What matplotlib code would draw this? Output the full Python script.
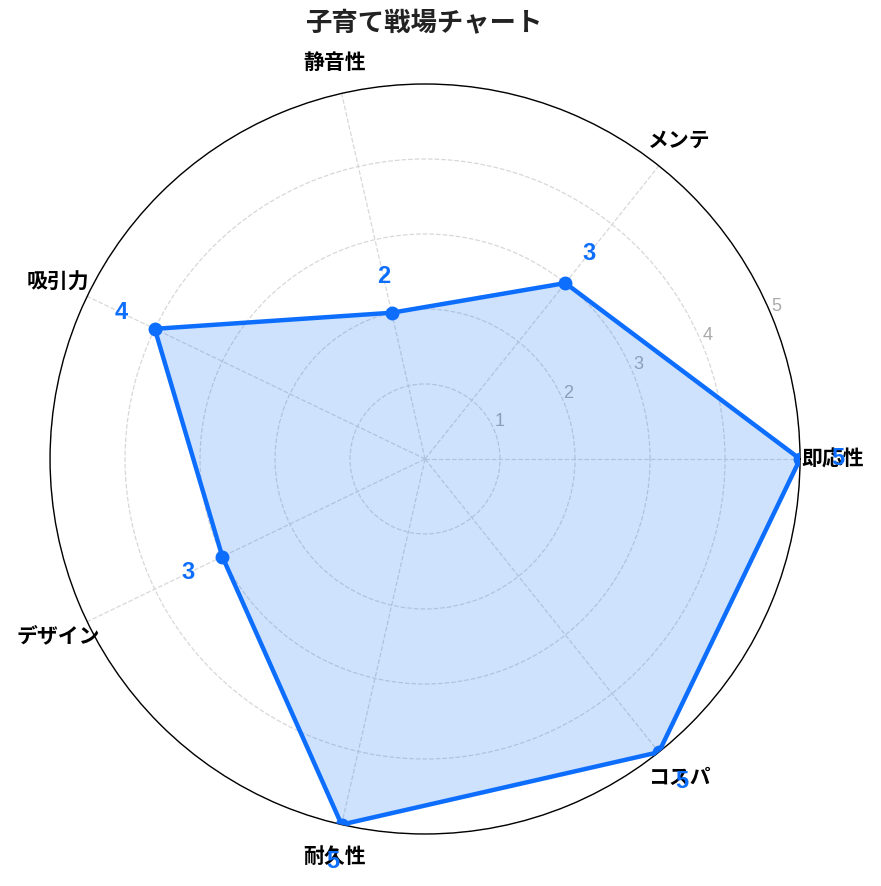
import numpy as np
import matplotlib
matplotlib.use("Agg")
import matplotlib.pyplot as plt

plt.rcParams['font.family'] = ['Noto Sans CJK JP', 'DejaVu Sans']

# ---- data ----
categories = ["即応性", "メンテ", "静音性", "吸引力", "デザイン", "耐久性", "コスパ"]
scores = [5, 3, 2, 4, 3, 5, 5]
r_ticks = [1, 2, 3, 4, 5]
title = "子育て戦場チャート"

BLUE = "#0d6efd"
DIGIT_FONT = ['Liberation Sans', 'DejaVu Sans']

n = len(categories)
angles = np.linspace(0, 2 * np.pi, n, endpoint=False)
closed_angles = np.append(angles, angles[0])
closed_scores = np.append(scores, scores[0])

fig = plt.figure(figsize=(8.81, 8.86), dpi=100)
ax = fig.add_axes([0.0568, 0.0587, 0.8513, 0.8465], projection='polar')

ax.set_ylim(0, 5)
ax.set_xticks(angles)
ax.set_xticklabels([])
ax.set_yticks(r_ticks)
ax.set_yticklabels([str(t) for t in r_ticks], color="#aaaaaa", fontsize=13,
                   family=DIGIT_FONT)
ax.set_rlabel_position(22.5)
ax.grid(True, color="#d8d8d8", linestyle="--", linewidth=0.9)
ax.spines['polar'].set_color("black")
ax.spines['polar'].set_linewidth(1.0)

ax.fill(closed_angles, closed_scores, color=BLUE, alpha=0.2, zorder=2)
ax.plot(closed_angles, closed_scores, color=BLUE, linewidth=3.2, zorder=3)
ax.plot(angles, scores, 'o', color=BLUE, markersize=9, zorder=4)

# category labels
for a, lab in zip(angles, categories):
    ax.text(a, 5.43, lab, ha="center", va="center", fontsize=15,
            fontweight="bold", color="black", clip_on=False, zorder=5)

# value labels
for a, s in zip(angles, scores):
    ax.text(a, s + 0.5, str(s), ha="center", va="center", fontsize=17,
            fontweight="bold", color=BLUE, family=DIGIT_FONT,
            clip_on=False, zorder=6)

fig.text(425 / 881, 1 - 24 / 886, title, ha="center", va="center",
         fontsize=19, fontweight="bold", color="#222222")

fig.savefig("out.png", dpi=100)
